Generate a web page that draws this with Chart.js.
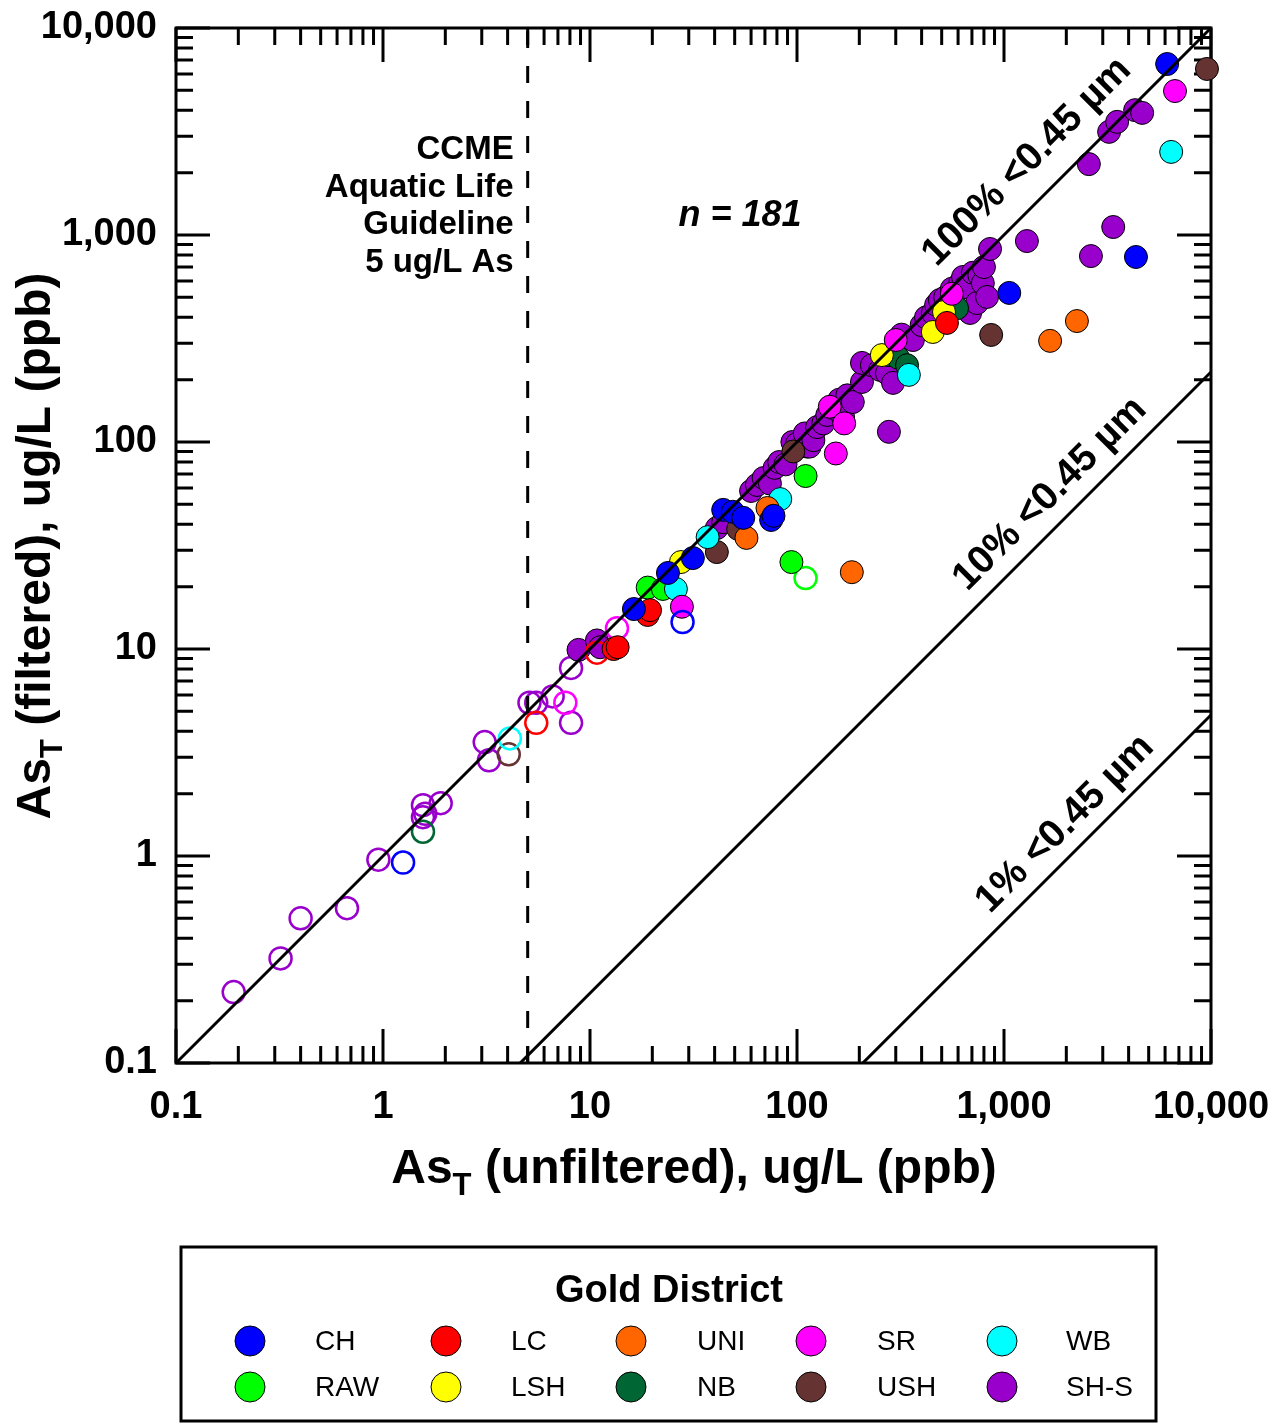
<!DOCTYPE html>
<html>
<head>
<meta charset="utf-8">
<script src="https://cdn.jsdelivr.net/npm/chart.js@4.4.0/dist/chart.umd.min.js"></script>
<style>
html, body { margin: 0; padding: 0; background: #fff; }
canvas { display: block; }
</style>
</head>
<body>
<canvas id="chart" width="1273" height="1423"></canvas>
<script>
// gold districts, legend order (two rows of five)
var districts = ['CH', 'LC', 'UNI', 'SR', 'WB', 'RAW', 'LSH', 'NB', 'USH', 'SH-S'];
var districtColors = ['#0000ff', '#ff0000', '#ff6600', '#ff00ff', '#00ffff',
                      '#00ff00', '#ffff00', '#006633', '#663333', '#9900cc'];

// [unfiltered, filtered] in ug/L, filled = detected
var chFilled = [[16.3,15.6],[23.8,23.3],[31.4,27.5],[44,47],[49,46],[55,43],[75,42],[77,44],[1060,525],[4340,783],[6140,6700]];
var chOpen = [[1.25,0.93],[28,13.5]];
var lcFilled = [[13,10],[13.6,10.2],[19,14.6],[19.5,15.4],[530,376]];
var lcOpen = [[5.5,4.4],[10.8,9.6]];
var uniFilled = [[57,34.4],[72,48],[184,23.5],[1670,308],[2250,384]];
var uniOpen = [];
var srFilled = [[27.8,16],[144,148],[154,88],[169,123],[300,311],[560,520],[6700,4960]];
var srOpen = [[7.6,5.5],[13.5,12.6]];
var wbFilled = [[26,19.5],[37,34.7],[83,53],[347,211],[6420,2520]];
var wbOpen = [[4.1,3.7]];
var rawFilled = [[19,19.8],[22.5,19.5],[94,26.3],[110,68.5]];
var rawOpen = [[110,22]];
var lshFilled = [[27.5,26.3],[257,263],[453,340],[513,425]];
var lshOpen = [];
var nbFilled = [[278,263],[308,255],[340,235],[593,443]];
var nbOpen = [[1.56,1.31]];
var ushFilled = [[41,29.4],[52,38],[96,90],[867,329],[9560,6340]];
var ushOpen = [[4.05,3.1]];
var shsFilled = [[8.8,9.9],[10.8,11],[11.2,10.2],[41,38.4],[44,41],[60,58],[64,62],[69,67],[74,63],[78,75],[82,80],[88,78],
  [95,100],[100,98],[109,110],[112,95],[115,95],[120,102],[125,118],[134,123],[140,135],[149,146],[160,160],[167,132],
  [175,168],[186,156],[206,195],[206,241],[230,235],[252,223],[272,215],[278,112],[291,193],[320,330],[363,311],[400,367],
  [420,400],[453,420],[470,460],[490,485],[520,500],[560,550],[614,585],[634,627],[650,560],[686,420],[707,657],[740,469],
  [760,640],[790,585],[800,700],[828,502],[856,856],[1290,935],[2570,2200],[2630,791],[3220,3150],[3370,1093],[3520,3520],
  [4300,4010],[4650,3890]];
var shsOpen = [[0.19,0.22],[0.32,0.32],[0.40,0.50],[0.67,0.56],[0.95,0.96],[1.56,1.54],[1.6,1.6],[1.56,1.76],[1.9,1.8],
  [3.1,3.55],[3.25,2.9],[5.1,5.5],[5.5,5.5],[6.6,5.9],[8.1,4.4],[8.1,8.1]];

var filledSets = [chFilled, lcFilled, uniFilled, srFilled, wbFilled, rawFilled, lshFilled, nbFilled, ushFilled, shsFilled];
var openSets = [chOpen, lcOpen, uniOpen, srOpen, wbOpen, rawOpen, lshOpen, nbOpen, ushOpen, shsOpen];

// reference lines as drawn
var line100 = [[0.1,0.1],[10000,10000]];
var line10 = [[4.6,0.1],[10000,218]];
var line1 = [[208,0.1],[10000,4.8]];
var guideline = [[5,0.1],[5,10000]];

var decades = [0.1, 1, 10, 100, 1000, 10000];
var decadeLabels = ['0.1', '1', '10', '100', '1,000', '10,000'];

var FONT = '"Liberation Sans", Arial, Helvetica, sans-serif';

var tickValues = [];
for (var d = 0; d < decades.length - 1; d++) {
    for (var m = 1; m < 10; m++) {
        tickValues.push(decades[d] * m);
    }
}
tickValues.push(10000);

function isDecade(v) {
    var l = Math.log10(v);
    return Math.abs(l - Math.round(l)) < 1e-9;
}

function toPoints(arr) {
    return arr.map(function (p) { return {x: p[0], y: p[1]}; });
}

function tickLabel(value) {
    for (var i = 0; i < decades.length; i++) {
        if (Math.abs(value - decades[i]) < decades[i] * 1e-6) return decadeLabels[i];
    }
    return '';
}

function buildTicks(scale) {
    scale.ticks = tickValues.map(function (v) { return {value: v, major: isDecade(v)}; });
}

function noOverhang(s) {
    s.paddingTop = 0;
    s.paddingBottom = 0;
    s.paddingLeft = 0;
    s.paddingRight = 0;
}

var datasets = [];

function lineSet(arr, dash) {
    return {
        data: toPoints(arr),
        showLine: true,
        borderColor: '#000',
        borderWidth: 3,
        borderDash: dash || [],
        pointRadius: 0,
        order: 0
    };
}
datasets.push(lineSet(line100));
datasets.push(lineSet(line10));
datasets.push(lineSet(line1));
datasets.push(lineSet(guideline, [17, 18]));

districts.forEach(function (name, i) {
    var ord = name === 'SH-S' ? 30 : 10 + i;
    datasets.push({
        label: name,
        data: toPoints(filledSets[i]),
        pointRadius: 11.5,
        pointBackgroundColor: districtColors[i],
        pointBorderColor: '#000',
        pointBorderWidth: 1,
        clip: false,
        order: ord
    });
    datasets.push({
        label: name + ' open',
        data: toPoints(openSets[i]),
        pointRadius: 11,
        pointBackgroundColor: 'rgba(0,0,0,0)',
        pointBorderColor: districtColors[i],
        pointBorderWidth: 2.5,
        clip: false,
        order: ord
    });
});

function drawAsTitle(ctx, rest, cx, cy) {
    var big = 'bold 48px ' + FONT, small = 'bold 31px ' + FONT;
    ctx.font = big;
    var w1 = ctx.measureText('As').width, w3 = ctx.measureText(rest).width;
    ctx.font = small;
    var w2 = ctx.measureText('T').width;
    var x = cx - (w1 + w2 + w3) / 2;
    ctx.textAlign = 'left';
    ctx.textBaseline = 'middle';
    ctx.font = big;
    ctx.fillText('As', x, cy);
    ctx.font = small;
    ctx.fillText('T', x + w1, cy + 16);
    ctx.font = big;
    ctx.fillText(rest, x + w1 + w2, cy);
}

function drawRotated(ctx, text, x, y, angle) {
    ctx.save();
    ctx.translate(x, y);
    ctx.rotate(angle);
    ctx.textAlign = 'center';
    ctx.textBaseline = 'middle';
    ctx.fillText(text, 0, 0);
    ctx.restore();
}

var framePlugin = {
    id: 'framePlugin',
    beforeDatasetsDraw: function (chart) {
        var ctx = chart.ctx, a = chart.chartArea;
        var xs = chart.scales.x, ys = chart.scales.y;
        ctx.save();
        ctx.strokeStyle = '#000';
        ctx.lineWidth = 3;
        ctx.strokeRect(a.left, a.top, a.right - a.left, a.bottom - a.top);
        ctx.beginPath();
        tickValues.forEach(function (v) {
            var len = isDecade(v) ? 34 : 17;
            var px = xs.getPixelForValue(v), py = ys.getPixelForValue(v);
            ctx.moveTo(px, a.bottom); ctx.lineTo(px, a.bottom - len);
            ctx.moveTo(px, a.top); ctx.lineTo(px, a.top + len);
            ctx.moveTo(a.left, py); ctx.lineTo(a.left + len, py);
            ctx.moveTo(a.right, py); ctx.lineTo(a.right - len, py);
        });
        ctx.stroke();
        ctx.restore();
    },
    afterDraw: function (chart) {
        var ctx = chart.ctx;
        var xs = chart.scales.x, ys = chart.scales.y;
        ctx.save();
        ctx.fillStyle = '#000';

        // axis titles
        drawAsTitle(ctx, ' (unfiltered), ug/L (ppb)', 694, 1170);
        ctx.save();
        ctx.translate(37, 546);
        ctx.rotate(-Math.PI / 2);
        drawAsTitle(ctx, ' (filtered), ug/L (ppb)', 0, 0);
        ctx.restore();

        // guideline note
        ctx.font = 'bold 33px ' + FONT;
        ctx.textAlign = 'right';
        ctx.textBaseline = 'middle';
        var gx = xs.getPixelForValue(5) - 14;
        ctx.fillText('CCME', gx, 150);
        ctx.fillText('Aquatic Life', gx, 188);
        ctx.fillText('Guideline', gx, 225);
        ctx.fillText('5 ug/L As', gx, 263);

        ctx.font = 'italic bold 36px ' + FONT;
        ctx.textAlign = 'center';
        ctx.fillText('n = 181', 740, 216);

        // line labels
        ctx.font = 'bold 39px ' + FONT;
        drawRotated(ctx, '100% <0.45 \u00b5m', xs.getPixelForValue(1291), ys.getPixelForValue(2253), -Math.PI / 4);
        drawRotated(ctx, '10% <0.45 \u00b5m', xs.getPixelForValue(1668), ys.getPixelForValue(56.1), -Math.PI / 4);
        drawRotated(ctx, '1% <0.45 \u00b5m', xs.getPixelForValue(1971), ys.getPixelForValue(1.43), -Math.PI / 4);

        // legend box
        ctx.strokeStyle = '#000';
        ctx.lineWidth = 3;
        ctx.strokeRect(181, 1247, 975, 174);
        ctx.font = 'bold 38px ' + FONT;
        ctx.textAlign = 'center';
        ctx.fillText('Gold District', 669, 1292);
        var markX = [250, 446, 631, 811, 1002];
        var textX = [315, 511, 697, 877, 1066];
        var rowY = [1341, 1387];
        ctx.font = '28px ' + FONT;
        ctx.textAlign = 'left';
        ctx.lineWidth = 1;
        districts.forEach(function (name, i) {
            var c = i % 5, r = Math.floor(i / 5);
            ctx.beginPath();
            ctx.arc(markX[c], rowY[r], 15, 0, Math.PI * 2);
            ctx.fillStyle = districtColors[i];
            ctx.fill();
            ctx.stroke();
            ctx.fillStyle = '#000';
            ctx.fillText(name, textX[c], rowY[r] + 1);
        });
        ctx.restore();
    }
};

var axisTicks = {
    color: '#000',
    font: {family: FONT, size: 38, weight: 'bold'},
    autoSkip: false,
    maxRotation: 0,
    minRotation: 0,
    callback: function (value) { return tickLabel(value); }
};

new Chart(document.getElementById('chart'), {
    type: 'scatter',
    data: {datasets: datasets},
    plugins: [framePlugin],
    options: {
        responsive: false,
        animation: false,
        devicePixelRatio: 1,
        layout: {padding: {left: 0, top: 28, right: 62, bottom: 260}},
        plugins: {legend: {display: false}, tooltip: {enabled: false}},
        scales: {
            x: {
                type: 'logarithmic',
                min: 0.1,
                max: 10000,
                grid: {display: false},
                border: {display: false},
                ticks: Object.assign({padding: 14}, axisTicks),
                afterBuildTicks: buildTicks,
                afterFit: function (s) { s.height = 100; noOverhang(s); }
            },
            y: {
                type: 'logarithmic',
                min: 0.1,
                max: 10000,
                grid: {display: false},
                border: {display: false},
                ticks: Object.assign({padding: 11}, axisTicks),
                afterBuildTicks: buildTicks,
                afterFit: function (s) { s.width = 176; noOverhang(s); }
            }
        }
    }
});
</script>
</body>
</html>
